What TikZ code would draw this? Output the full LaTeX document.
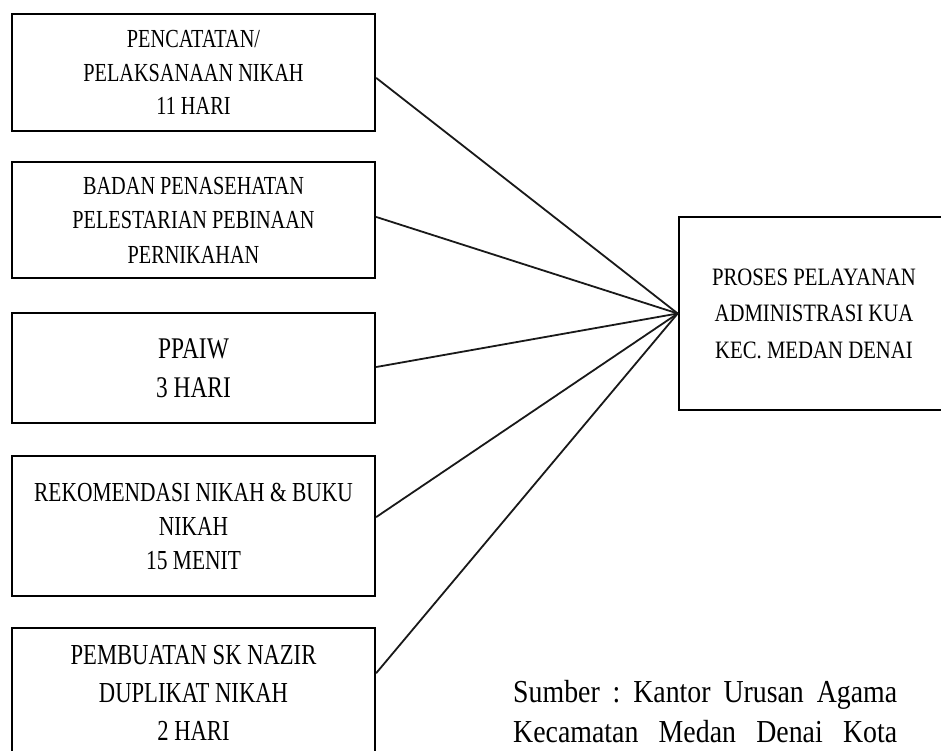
\documentclass[tikz,border=0pt]{standalone}
\usepackage{fontspec}
\setmainfont{Liberation Serif}
\newfontfamily\boxfont[FakeStretch=0.78]{Liberation Serif}
\newfontfamily\rbfont[FakeStretch=0.83]{Liberation Serif}
\newfontfamily\srcfont[FakeStretch=0.87]{Liberation Serif}
\tikzset{
  box/.style={draw=black, line width=2.6pt, rectangle, inner sep=0pt, align=center, text=black},
  conn/.style={draw=black!90, line width=1.8pt, line cap=round},
  srctext/.style={inner sep=0pt, anchor=base west, font=\srcfont\fontsize{32}{40}\selectfont}
}
\begin{document}
\begin{tikzpicture}[x=1pt, y=-1pt]
\useasboundingbox (0,0) rectangle (941,751);
\clip (0,0) rectangle (941,751);
\fill[white] (0,0) rectangle (941,751);

\node[box, minimum width=363pt, minimum height=117pt, font=\boxfont\fontsize{26}{33.5}\selectfont] (b1) at (193.5,72.5)
  {PENCATATAN/\\PELAKSANAAN NIKAH\\11 HARI};
\node[box, minimum width=363pt, minimum height=116pt, font=\boxfont\fontsize{26}{34.5}\selectfont] (b2) at (193.5,220)
  {BADAN PENASEHATAN\\PELESTARIAN PEBINAAN\\PERNIKAHAN};
\node[box, minimum width=363pt, minimum height=110pt, font=\boxfont\fontsize{30}{39}\selectfont] (b3) at (193.5,368)
  {PPAIW\\3 HARI};
\node[box, minimum width=363pt, minimum height=140pt, font=\boxfont\fontsize{27.5}{34}\selectfont] (b4) at (193.5,526)
  {REKOMENDASI NIKAH \& BUKU\\NIKAH\\15 MENIT};
\node[box, minimum width=363pt, minimum height=130pt, font=\boxfont\fontsize{29}{38}\selectfont] (b5) at (193.5,693)
  {PEMBUATAN SK NAZIR\\DUPLIKAT NIKAH\\2 HARI};

\node[box, minimum width=270pt, minimum height=193pt, font=\rbfont\fontsize{25}{36.5}\selectfont] (rb) at (814,313.5)
  {PROSES PELAYANAN\\ADMINISTRASI KUA\\KEC. MEDAN DENAI};

\draw[conn] ([yshift=-5.5pt]b1.east) -- (rb.west);
\draw[conn] ([yshift=3pt]b2.east) -- (rb.west);
\draw[conn] ([yshift=1pt]b3.east) -- (rb.west);
\draw[conn] ([yshift=9pt]b4.east) -- (rb.west);
\draw[conn] ([yshift=20pt]b5.east) -- (rb.west);

\node[srctext] (s1) at (513,702) {\hbox to 384pt{Sumber\hfill:\hfill Kantor\hfill Urusan\hfill Agama}};
\node[srctext] (s2) at (513,742) {\hbox to 384pt{Kecamatan\hfill Medan\hfill Denai\hfill Kota}};
\end{tikzpicture}
\end{document}
